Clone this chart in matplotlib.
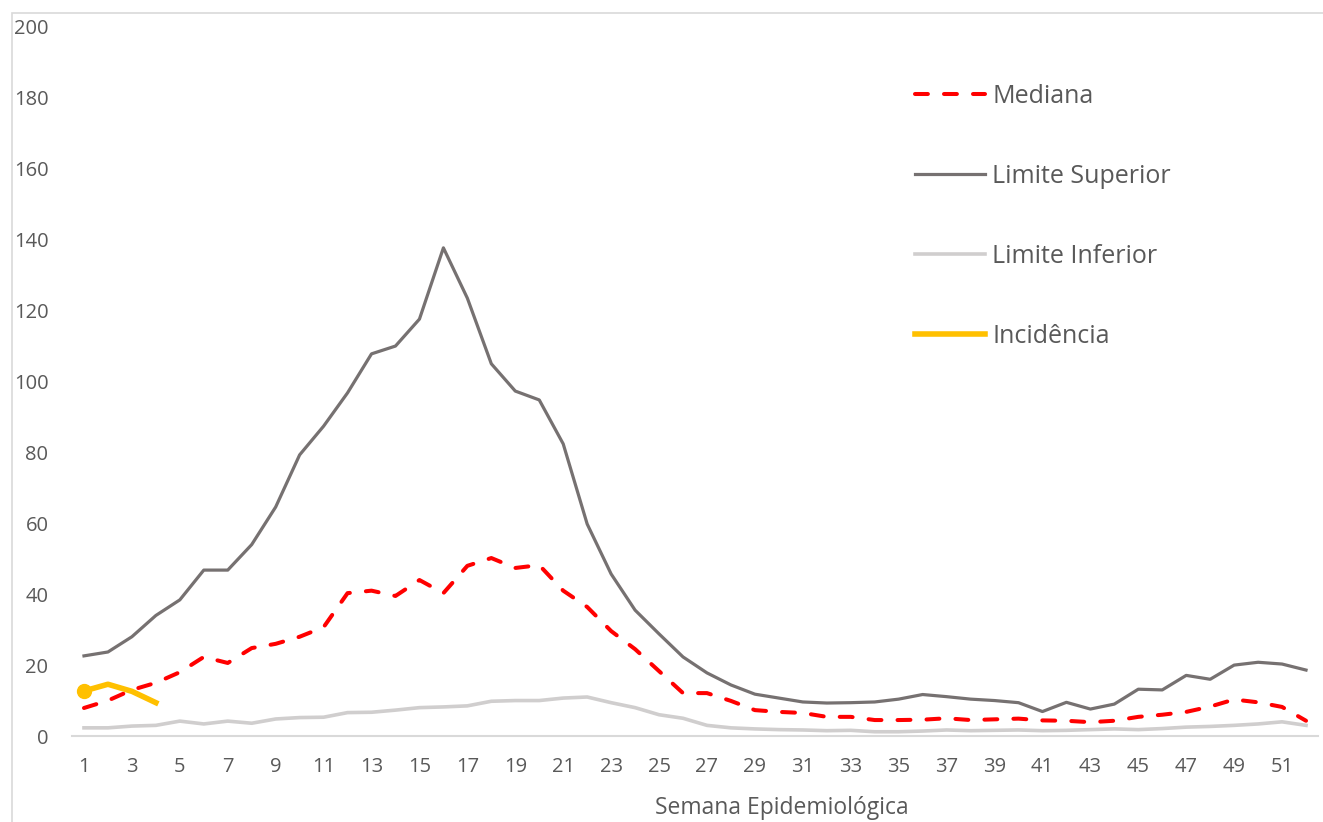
import matplotlib
matplotlib.use("Agg")
import matplotlib.pyplot as plt
from matplotlib.patches import Rectangle

weeks = list(range(1, 53))
mediana = [7.9, 10.0, 13.0, 15.0, 18.0, 22.3, 20.6, 24.8, 26.0, 28.0,
           30.7, 40.3, 41.0, 39.5, 44.0, 40.3, 48.0, 50.2, 47.4, 48.2,
           41.0, 36.4, 29.6, 24.5, 18.3, 12.1, 12.1, 9.9, 7.3, 6.8,
           6.5, 5.4, 5.4, 4.5, 4.5, 4.6, 5.0, 4.5, 4.7, 4.9,
           4.4, 4.3, 3.9, 4.3, 5.4, 6.0, 6.8, 8.3, 10.3, 9.5,
           8.2, 4.3]
limite_superior = [22.6, 23.7, 28.0, 34.0, 38.4, 46.8, 46.8, 54.0, 64.6, 79.3,
                   87.4, 96.8, 107.8, 110.0, 117.6, 137.7, 123.5, 105.0, 97.3, 94.8,
                   82.4, 59.8, 45.7, 35.5, 28.8, 22.3, 17.8, 14.4, 11.8, 10.7,
                   9.6, 9.3, 9.4, 9.6, 10.4, 11.7, 11.1, 10.4, 10.0, 9.4,
                   6.9, 9.5, 7.6, 9.0, 13.2, 13.0, 17.1, 16.0, 20.0, 20.8,
                   20.3, 18.6]
limite_inferior = [2.3, 2.3, 2.8, 3.0, 4.2, 3.4, 4.2, 3.6, 4.8, 5.2,
                   5.3, 6.6, 6.7, 7.3, 8.0, 8.2, 8.5, 9.8, 10.0, 10.0,
                   10.7, 11.0, 9.4, 8.0, 6.0, 5.0, 3.0, 2.3, 2.0, 1.8,
                   1.7, 1.5, 1.6, 1.2, 1.2, 1.4, 1.7, 1.5, 1.6, 1.7,
                   1.5, 1.6, 1.8, 2.0, 1.8, 2.1, 2.5, 2.7, 3.0, 3.4,
                   4.0, 3.0]
inc_weeks = [1, 2, 3, 4]
incidencia = [12.7, 14.6, 12.6, 9.4]

yticks = list(range(0, 201, 20))
xticks = list(range(1, 53, 2))

W, H = 1323, 822
fig = plt.figure(figsize=(W / 100, H / 100), dpi=100)
fig.patch.set_facecolor("white")

# outer frame (chart area border)
fig.add_artist(Rectangle((12 / W, -0.1), 1.2, (822 - 13) / H + 0.1,
                         transform=fig.transFigure, fill=False,
                         edgecolor="#d9d9d9", linewidth=1.2))

ax = fig.add_axes([72 / W, (822 - 736) / H, (1318 - 72) / W, (736 - 27) / H])
ax.set_xlim(0.5, 52.5)
ax.set_ylim(0, 200)

txt = "#595959"
font = "Open Sans"

l_up, = ax.plot(weeks, limite_superior, color="#767171", lw=2.3,
                solid_joinstyle="round", label="Limite Superior", zorder=3)
l_lo, = ax.plot(weeks, limite_inferior, color="#d0cece", lw=2.6,
                solid_joinstyle="round", label="Limite Inferior", zorder=2)
l_med, = ax.plot(weeks, mediana, color="#ff0000", lw=2.9, linestyle=(0, (3.2, 4.0)),
                 dash_capstyle="round", label="Mediana", zorder=4)
l_inc, = ax.plot(inc_weeks, incidencia, color="#ffc000", lw=4.0,
                 solid_joinstyle="round", label="Incidência", zorder=5)
ax.plot(inc_weeks[:1], incidencia[:1], marker="o", markersize=10,
        color="#ffc000", linestyle="none", zorder=6)

for s in ["top", "right", "left"]:
    ax.spines[s].set_visible(False)
ax.spines["bottom"].set_color("#d9d9d9")
ax.spines["bottom"].set_linewidth(1.5)

ax.set_yticks(yticks)
ax.set_xticks(xticks)
ax.set_xticklabels([str(x) for x in xticks])
ax.tick_params(axis="both", length=0, labelsize=14.5, labelcolor=txt)
ax.tick_params(axis="y", pad=17)
ax.tick_params(axis="x", pad=15)
for lab in ax.get_xticklabels() + ax.get_yticklabels():
    lab.set_fontfamily(font)

ax.set_xlabel("Semana Epidemiológica", fontsize=16.5, color=txt,
              fontfamily=font)
ax.xaxis.set_label_coords((782 - 72) / (1318 - 72), -(808 - 736) / (736 - 27),
                          transform=ax.transAxes)
ax.xaxis.label.set_va("center")

leg = ax.legend(handles=[l_med, l_up, l_lo, l_inc],
                loc="upper left", bbox_to_anchor=(915 / W, 1 - 84 / H),
                bbox_transform=fig.transFigure, frameon=False,
                prop={"family": font, "size": 18}, handlelength=2.8,
                handletextpad=0.3, labelspacing=2.2, borderpad=0,
                borderaxespad=0)
for t in leg.get_texts():
    t.set_color(txt)

fig.savefig("out.png", dpi=100, facecolor="white")
